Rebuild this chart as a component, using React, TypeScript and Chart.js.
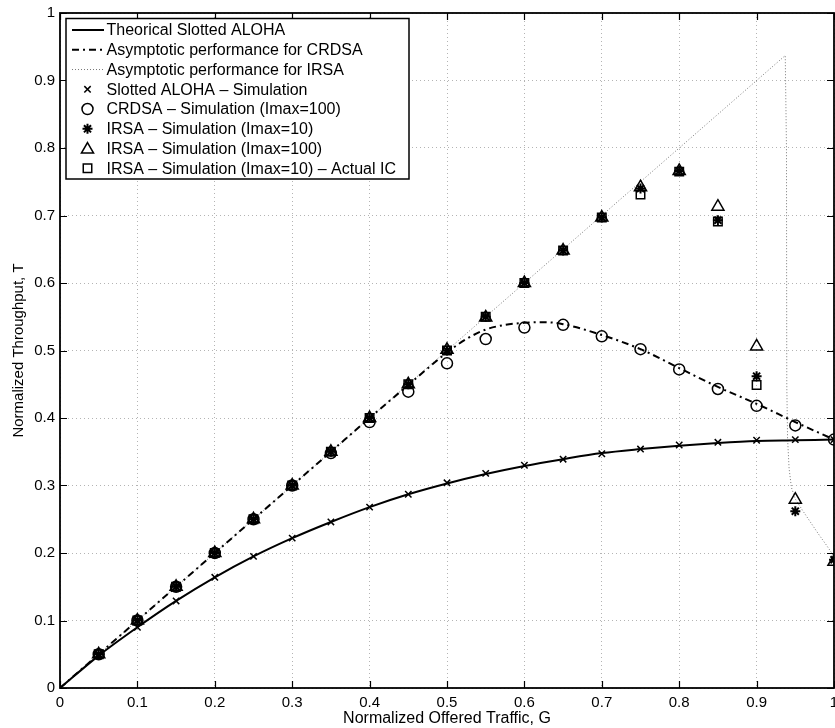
import React, { useEffect, useRef } from 'react';
import { Chart, registerables } from 'chart.js';

Chart.register(...registerables);

// ---------- data ----------
const G_SIM = [0.05, 0.1, 0.15, 0.2, 0.25, 0.3, 0.35, 0.4, 0.45, 0.5, 0.55, 0.6, 0.65, 0.7, 0.75, 0.8, 0.85, 0.9, 0.95, 1.0];

const ALOHA_THEORY_G = [0, 0.05, 0.1, 0.15, 0.2, 0.25, 0.3, 0.35, 0.4, 0.45, 0.5, 0.55, 0.6, 0.65, 0.7, 0.75, 0.8, 0.85, 0.9, 0.95, 1.0];
const ALOHA_THEORY_T = [0, 0.048, 0.090, 0.129, 0.164, 0.195, 0.222, 0.246, 0.268, 0.287, 0.303, 0.317, 0.329, 0.339, 0.348, 0.354, 0.359, 0.363, 0.366, 0.367, 0.368];

const ALOHA_SIM = [0.048, 0.090, 0.129, 0.164, 0.195, 0.222, 0.246, 0.268, 0.287, 0.304, 0.318, 0.330, 0.339, 0.347, 0.354, 0.360, 0.364, 0.367, 0.368, 0.368];

const CRDSA_SIM = [0.05, 0.1, 0.15, 0.2, 0.25, 0.3, 0.348, 0.394, 0.439, 0.481, 0.517, 0.534, 0.538, 0.521, 0.502, 0.472, 0.443, 0.418, 0.389, 0.368];

const CRDSA_ASYM_G = [0, 0.05, 0.1, 0.15, 0.2, 0.25, 0.3, 0.35, 0.4, 0.45, 0.5, 0.525, 0.55, 0.575, 0.6, 0.625, 0.65, 0.7, 0.75, 0.8, 0.85, 0.9, 0.95, 1.0];
const CRDSA_ASYM_T = [0, 0.05, 0.1, 0.15, 0.2, 0.25, 0.3, 0.35, 0.4, 0.449, 0.497, 0.517, 0.531, 0.538, 0.541, 0.542, 0.539, 0.523, 0.502, 0.474, 0.446, 0.421, 0.394, 0.368];

const IRSA_ASYM_G = [0, 0.937, 0.9386, 0.9388, 0.939, 0.940, 0.942, 0.945, 0.95, 0.96, 0.97, 0.98, 0.99, 1.0];
const IRSA_ASYM_T = [0, 0.937, 0.8, 0.6, 0.45, 0.37, 0.325, 0.297, 0.28, 0.262, 0.245, 0.228, 0.212, 0.195];

const IRSA10 = [0.05, 0.1, 0.15, 0.2, 0.25, 0.3, 0.35, 0.4, 0.45, 0.5, 0.55, 0.6, 0.648, 0.697, 0.74, 0.766, 0.693, 0.462, 0.262, 0.19];
const IRSA100 = [0.05, 0.1, 0.15, 0.2, 0.25, 0.3, 0.35, 0.4, 0.45, 0.501, 0.549, 0.6, 0.648, 0.697, 0.742, 0.766, 0.713, 0.506, 0.279, 0.187];
const IRSA10_IC = [0.05, 0.1, 0.15, 0.2, 0.25, 0.3, 0.35, 0.4, 0.45, 0.5, 0.55, 0.6, 0.648, 0.697, 0.731, 0.765, 0.691, 0.449];

const TICK_VALUES = [0, 0.1, 0.2, 0.3, 0.4, 0.5, 0.6, 0.7, 0.8, 0.9, 1];
const TICK_LABELS = ['0', '0.1', '0.2', '0.3', '0.4', '0.5', '0.6', '0.7', '0.8', '0.9', '1'];

const LEGEND_LABELS = [
  'Theorical Slotted ALOHA',
  'Asymptotic performance for CRDSA',
  'Asymptotic performance for IRSA',
  'Slotted ALOHA \u2013 Simulation',
  'CRDSA \u2013 Simulation (Imax=100)',
  'IRSA \u2013 Simulation (Imax=10)',
  'IRSA \u2013 Simulation (Imax=100)',
  'IRSA \u2013 Simulation (Imax=10) \u2013 Actual IC',
];

const X_TITLE = 'Normalized Offered Traffic, G';
const Y_TITLE = 'Normalized Throughput, T';

// ---------- helpers ----------
const FONT = '"Liberation Sans", Arial, Helvetica, sans-serif';

const pts = (xs: number[], ys: number[]) => ys.map((y, i) => ({ x: xs[i], y }));

function drawMarker(ctx: CanvasRenderingContext2D, style: string, x: number, y: number, r: number) {
  ctx.beginPath();
  if (style === 'circle') {
    ctx.arc(x, y, r, 0, Math.PI * 2);
  } else if (style === 'crossRot' || style === 'star') {
    const d = r * Math.SQRT1_2;
    ctx.moveTo(x - d, y - d); ctx.lineTo(x + d, y + d);
    ctx.moveTo(x - d, y + d); ctx.lineTo(x + d, y - d);
    if (style === 'star') {
      ctx.moveTo(x - r, y); ctx.lineTo(x + r, y);
      ctx.moveTo(x, y - r); ctx.lineTo(x, y + r);
    }
  } else if (style === 'triangle') {
    let a = 0;
    ctx.moveTo(x + Math.sin(a) * r, y - Math.cos(a) * r);
    a += (2 * Math.PI) / 3;
    ctx.lineTo(x + Math.sin(a) * r, y - Math.cos(a) * r);
    a += (2 * Math.PI) / 3;
    ctx.lineTo(x + Math.sin(a) * r, y - Math.cos(a) * r);
    ctx.closePath();
  } else if (style === 'rect') {
    const s = r * Math.SQRT1_2;
    ctx.rect(x - s, y - s, 2 * s, 2 * s);
  }
  ctx.stroke();
}

const framePlugin = {
  id: 'frameAndLegend',
  afterDraw(chart: any) {
    const { ctx, chartArea } = chart;
    const { left, right, top, bottom } = chartArea;
    const xs = chart.scales.x;
    const ys = chart.scales.y;
    ctx.save();
    ctx.strokeStyle = '#000';
    ctx.lineWidth = 1.2;
    ctx.setLineDash([]);
    // inward tick marks
    const tl = 7;
    ctx.beginPath();
    TICK_VALUES.forEach((v) => {
      const px = Math.round(xs.getPixelForValue(v)) + 0.5;
      ctx.moveTo(px, bottom); ctx.lineTo(px, bottom - tl);
      ctx.moveTo(px, top); ctx.lineTo(px, top + tl);
      const py = Math.round(ys.getPixelForValue(v)) + 0.5;
      ctx.moveTo(left, py); ctx.lineTo(left + tl, py);
      ctx.moveTo(right, py); ctx.lineTo(right - tl, py);
    });
    ctx.stroke();
    // box
    ctx.lineWidth = 1.8;
    ctx.strokeRect(left, top, right - left, bottom - top);

    // legend
    const lx = 66, ly = 18.5, lw = 343, lh = 160.5;
    ctx.fillStyle = '#fff';
    ctx.fillRect(lx, ly, lw, lh);
    ctx.lineWidth = 1.5;
    ctx.strokeStyle = '#000';
    ctx.strokeRect(lx, ly, lw, lh);

    const rowY = (i: number) => 30 + i * 19.76;
    const textX = 106.5;
    const symX0 = 72, symX1 = 104, symC = 87.5;

    // line samples
    ctx.lineWidth = 2;
    ctx.strokeStyle = '#000';
    ctx.setLineDash([]);
    ctx.beginPath(); ctx.moveTo(symX0, rowY(0)); ctx.lineTo(symX1, rowY(0)); ctx.stroke();
    ctx.setLineDash([7, 4, 2, 4]);
    ctx.beginPath(); ctx.moveTo(symX0, rowY(1)); ctx.lineTo(symX1, rowY(1)); ctx.stroke();
    ctx.lineWidth = 1;
    ctx.strokeStyle = '#777';
    ctx.setLineDash([1, 2]);
    ctx.beginPath(); ctx.moveTo(symX0, rowY(2)); ctx.lineTo(symX1, rowY(2)); ctx.stroke();
    ctx.setLineDash([]);
    ctx.strokeStyle = '#000';
    ctx.lineWidth = 1.5;
    drawMarker(ctx, 'crossRot', symC, rowY(3), 4.5);
    drawMarker(ctx, 'circle', symC, rowY(4), 5.5);
    ctx.lineWidth = 2;
    drawMarker(ctx, 'star', symC, rowY(5), 5);
    ctx.lineWidth = 1.5;
    drawMarker(ctx, 'triangle', symC, rowY(6) + 1, 7);
    drawMarker(ctx, 'rect', symC, rowY(7), 6);

    ctx.fillStyle = '#000';
    ctx.font = `16px ${FONT}`;
    ctx.textBaseline = 'middle';
    ctx.textAlign = 'left';
    LEGEND_LABELS.forEach((t, i) => ctx.fillText(t, textX, rowY(i) + 1));
    ctx.restore();
  },
};

const lineDs = (label: string, xs: number[], ys: number[], extra: any) => ({
  label,
  data: pts(xs, ys),
  showLine: true,
  pointRadius: 0,
  pointHoverRadius: 0,
  fill: false,
  ...extra,
});

const markerDs = (label: string, ys: number[], style: string, r: number, order: number, bw = 1.5) => ({
  label,
  data: pts(G_SIM, ys),
  showLine: false,
  pointStyle: style,
  pointRadius: r,
  pointHoverRadius: r,
  pointBorderColor: '#000',
  pointBackgroundColor: 'rgba(0,0,0,0)',
  pointBorderWidth: bw,
  order,
});

export default function App() {
  const ref = useRef<HTMLCanvasElement>(null);

  useEffect(() => {
    if (!ref.current) return;
    const tickFont = { family: FONT, size: 15 };
    const titleFont = { family: FONT, size: 16 };
    const gridOpts = { color: '#b4b4b4', lineWidth: 1, drawTicks: false };
    const borderOpts = { display: false, dash: [1, 3] };

    const chart = new Chart(ref.current, {
      type: 'scatter',
      data: {
        datasets: [
          lineDs(LEGEND_LABELS[0], ALOHA_THEORY_G, ALOHA_THEORY_T, {
            borderColor: '#000', borderWidth: 2, cubicInterpolationMode: 'monotone', order: 10,
          }),
          lineDs(LEGEND_LABELS[1], CRDSA_ASYM_G, CRDSA_ASYM_T, {
            borderColor: '#000', borderWidth: 2, borderDash: [7, 4, 2, 4], cubicInterpolationMode: 'monotone', order: 11,
          }),
          lineDs(LEGEND_LABELS[2], IRSA_ASYM_G, IRSA_ASYM_T, {
            borderColor: '#777', borderWidth: 1, borderDash: [1, 2], tension: 0, order: 12,
          }),
          markerDs(LEGEND_LABELS[3], ALOHA_SIM, 'crossRot', 4.5, 1),
          markerDs(LEGEND_LABELS[4], CRDSA_SIM, 'circle', 5.5, 2),
          markerDs(LEGEND_LABELS[5], IRSA10, 'star', 5, 3, 2),
          markerDs(LEGEND_LABELS[6], IRSA100, 'triangle', 7, 4),
          { ...markerDs(LEGEND_LABELS[7], IRSA10_IC, 'rect', 6, 5), data: pts(G_SIM.slice(0, IRSA10_IC.length), IRSA10_IC) },
        ] as any,
      },
      options: {
        responsive: false,
        devicePixelRatio: 1,
        animation: false,
        events: [],
        layout: { autoPadding: false, padding: { left: 0, right: 1, top: 13, bottom: 0 } },
        plugins: { legend: { display: false }, tooltip: { enabled: false } },
        scales: {
          x: {
            type: 'linear',
            position: 'bottom',
            min: 0,
            max: 1,
            afterBuildTicks: (s: any) => { s.ticks = TICK_VALUES.map((v) => ({ value: v })); },
            afterFit: (s: any) => { s.height = 40; s.paddingLeft = 0; s.paddingRight = 0; },
            ticks: {
              font: tickFont, color: '#000', padding: 6, maxRotation: 0, autoSkip: false,
              callback: (_v: any, i: number) => TICK_LABELS[i],
            },
            grid: gridOpts,
            border: borderOpts,
            title: { display: true, text: X_TITLE, font: titleFont, color: '#000', padding: { top: 0, bottom: 0 } },
          },
          y: {
            type: 'linear',
            position: 'left',
            min: 0,
            max: 1,
            afterBuildTicks: (s: any) => { s.ticks = TICK_VALUES.map((v) => ({ value: v })); },
            afterFit: (s: any) => { s.width = 60; s.paddingTop = 0; s.paddingBottom = 0; },
            ticks: {
              font: tickFont, color: '#000', padding: 5, autoSkip: false,
              callback: (_v: any, i: number) => TICK_LABELS[i],
            },
            grid: gridOpts,
            border: borderOpts,
            title: { display: true, text: Y_TITLE, font: { family: FONT, size: 15 }, color: '#000', padding: { top: 10, bottom: 0 } },
          },
        },
      } as any,
      plugins: [framePlugin],
    });
    return () => chart.destroy();
  }, []);

  return (
    <div style={{ position: 'absolute', left: 0, top: 0, width: 835, height: 728, background: '#fff' }}>
      <canvas ref={ref} width={835} height={728} style={{ display: 'block', width: 835, height: 728 }} />
    </div>
  );
}
